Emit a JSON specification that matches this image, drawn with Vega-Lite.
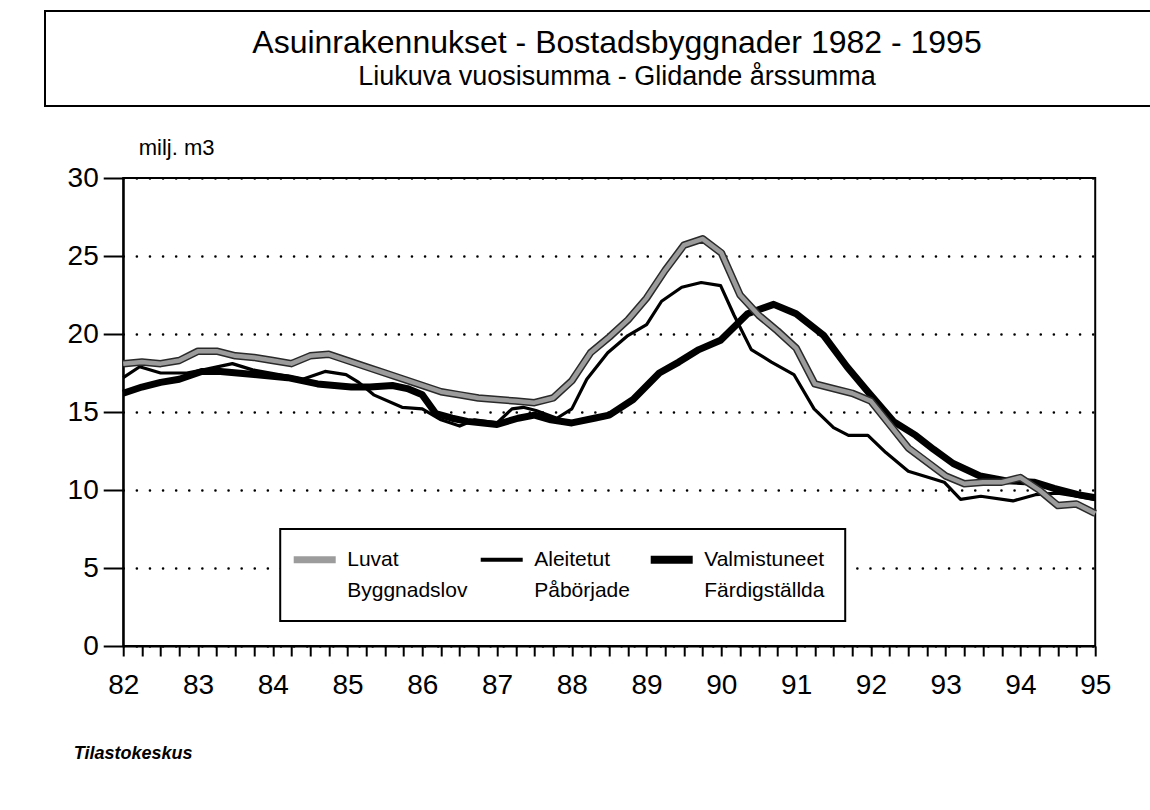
{
  "$schema": "https://vega.github.io/schema/vega-lite/v6.json",
  "background": "white",
  "padding": {"left": 3, "top": 10, "right": 3, "bottom": 0},
  "spacing": 28,
  "columns": 1,
  "center": true,
  "resolve": {"legend": {"color": "independent", "size": "independent"}},
  "config": {
    "font": "Liberation Sans, Arial, sans-serif",
    "view": {"stroke": "black", "strokeWidth": 2}
  },
  "concat": [
    {
      "width": 1144,
      "height": 95,
      "data": {"values": [
        {"row": "a", "line": "Asuinrakennukset - Bostadsbyggnader 1982 - 1995"},
        {"row": "b", "line": "Liukuva vuosisumma - Glidande årssumma"}
      ]},
      "mark": {"type": "text", "font": "Liberation Sans, Arial, sans-serif", "color": "black", "baseline": "middle", "align": "center"},
      "encoding": {
        "y": {"field": "row", "type": "nominal", "axis": null, "scale": {"domain": ["a", "b"], "range": [32, 66], "padding": 0}},
        "text": {"field": "line"},
        "size": {"field": "row", "type": "ordinal", "scale": {"domain": ["a", "b"], "range": [32, 27]}, "legend": null}
      }
    },
    {
      "width": 972,
      "height": 468,
      "data": {"values": [
        {"s":"Luvat","t":82.0,"v":18.1},{"s":"Luvat","t":82.25,"v":18.2},{"s":"Luvat","t":82.5,"v":18.1},{"s":"Luvat","t":82.75,"v":18.3},
        {"s":"Luvat","t":83.0,"v":18.9},{"s":"Luvat","t":83.25,"v":18.9},{"s":"Luvat","t":83.5,"v":18.6},{"s":"Luvat","t":83.75,"v":18.5},
        {"s":"Luvat","t":84.0,"v":18.3},{"s":"Luvat","t":84.25,"v":18.1},{"s":"Luvat","t":84.5,"v":18.6},{"s":"Luvat","t":84.75,"v":18.7},
        {"s":"Luvat","t":85.0,"v":18.3},{"s":"Luvat","t":85.25,"v":17.9},{"s":"Luvat","t":85.5,"v":17.5},{"s":"Luvat","t":85.75,"v":17.1},
        {"s":"Luvat","t":86.0,"v":16.7},{"s":"Luvat","t":86.25,"v":16.3},{"s":"Luvat","t":86.5,"v":16.1},{"s":"Luvat","t":86.75,"v":15.9},
        {"s":"Luvat","t":87.0,"v":15.8},{"s":"Luvat","t":87.25,"v":15.7},{"s":"Luvat","t":87.5,"v":15.6},{"s":"Luvat","t":87.75,"v":15.9},
        {"s":"Luvat","t":88.0,"v":17.0},{"s":"Luvat","t":88.25,"v":18.8},{"s":"Luvat","t":88.5,"v":19.8},{"s":"Luvat","t":88.75,"v":20.9},
        {"s":"Luvat","t":89.0,"v":22.3},{"s":"Luvat","t":89.25,"v":24.1},{"s":"Luvat","t":89.5,"v":25.7},{"s":"Luvat","t":89.75,"v":26.1},
        {"s":"Luvat","t":90.0,"v":25.2},{"s":"Luvat","t":90.25,"v":22.5},{"s":"Luvat","t":90.5,"v":21.2},{"s":"Luvat","t":90.75,"v":20.2},
        {"s":"Luvat","t":91.0,"v":19.1},{"s":"Luvat","t":91.25,"v":16.8},{"s":"Luvat","t":91.5,"v":16.5},{"s":"Luvat","t":91.75,"v":16.2},
        {"s":"Luvat","t":92.0,"v":15.7},{"s":"Luvat","t":92.25,"v":14.2},{"s":"Luvat","t":92.5,"v":12.7},{"s":"Luvat","t":92.75,"v":11.8},
        {"s":"Luvat","t":93.0,"v":10.9},{"s":"Luvat","t":93.25,"v":10.4},{"s":"Luvat","t":93.5,"v":10.5},{"s":"Luvat","t":93.75,"v":10.5},
        {"s":"Luvat","t":94.0,"v":10.8},{"s":"Luvat","t":94.25,"v":10.0},{"s":"Luvat","t":94.5,"v":9.0},{"s":"Luvat","t":94.75,"v":9.1},
        {"s":"Luvat","t":95.0,"v":8.5},

        {"s":"Aleitetut","t":82.0,"v":17.2},{"s":"Aleitetut","t":82.22,"v":17.9},{"s":"Aleitetut","t":82.5,"v":17.5},{"s":"Aleitetut","t":82.85,"v":17.5},
        {"s":"Aleitetut","t":83.07,"v":17.7},{"s":"Aleitetut","t":83.46,"v":18.1},{"s":"Aleitetut","t":83.73,"v":17.7},{"s":"Aleitetut","t":84.08,"v":17.4},
        {"s":"Aleitetut","t":84.4,"v":17.1},{"s":"Aleitetut","t":84.7,"v":17.6},{"s":"Aleitetut","t":84.98,"v":17.4},{"s":"Aleitetut","t":85.15,"v":16.9},
        {"s":"Aleitetut","t":85.35,"v":16.1},{"s":"Aleitetut","t":85.73,"v":15.3},{"s":"Aleitetut","t":86.0,"v":15.2},{"s":"Aleitetut","t":86.25,"v":14.5},
        {"s":"Aleitetut","t":86.5,"v":14.1},{"s":"Aleitetut","t":86.7,"v":14.5},{"s":"Aleitetut","t":87.0,"v":14.3},{"s":"Aleitetut","t":87.2,"v":15.2},
        {"s":"Aleitetut","t":87.35,"v":15.3},{"s":"Aleitetut","t":87.52,"v":15.1},{"s":"Aleitetut","t":87.8,"v":14.6},{"s":"Aleitetut","t":88.0,"v":15.2},
        {"s":"Aleitetut","t":88.2,"v":17.1},{"s":"Aleitetut","t":88.48,"v":18.8},{"s":"Aleitetut","t":88.75,"v":19.9},{"s":"Aleitetut","t":89.0,"v":20.6},
        {"s":"Aleitetut","t":89.2,"v":22.1},{"s":"Aleitetut","t":89.47,"v":23.0},{"s":"Aleitetut","t":89.73,"v":23.3},{"s":"Aleitetut","t":89.99,"v":23.1},
        {"s":"Aleitetut","t":90.17,"v":21.2},{"s":"Aleitetut","t":90.4,"v":19.0},{"s":"Aleitetut","t":90.67,"v":18.2},{"s":"Aleitetut","t":90.97,"v":17.4},
        {"s":"Aleitetut","t":91.24,"v":15.2},{"s":"Aleitetut","t":91.5,"v":14.0},{"s":"Aleitetut","t":91.7,"v":13.5},{"s":"Aleitetut","t":91.96,"v":13.5},
        {"s":"Aleitetut","t":92.2,"v":12.4},{"s":"Aleitetut","t":92.5,"v":11.2},{"s":"Aleitetut","t":92.84,"v":10.7},{"s":"Aleitetut","t":92.98,"v":10.5},
        {"s":"Aleitetut","t":93.2,"v":9.4},{"s":"Aleitetut","t":93.47,"v":9.6},{"s":"Aleitetut","t":93.9,"v":9.3},{"s":"Aleitetut","t":94.2,"v":9.7},
        {"s":"Aleitetut","t":94.5,"v":9.8},{"s":"Aleitetut","t":94.75,"v":9.6},{"s":"Aleitetut","t":95.0,"v":9.4},

        {"s":"Valmistuneet","t":82.0,"v":16.2},{"s":"Valmistuneet","t":82.25,"v":16.6},{"s":"Valmistuneet","t":82.5,"v":16.9},{"s":"Valmistuneet","t":82.75,"v":17.1},
        {"s":"Valmistuneet","t":83.05,"v":17.6},{"s":"Valmistuneet","t":83.3,"v":17.6},{"s":"Valmistuneet","t":83.75,"v":17.4},{"s":"Valmistuneet","t":84.2,"v":17.2},
        {"s":"Valmistuneet","t":84.6,"v":16.8},{"s":"Valmistuneet","t":85.05,"v":16.6},{"s":"Valmistuneet","t":85.3,"v":16.6},{"s":"Valmistuneet","t":85.6,"v":16.7},
        {"s":"Valmistuneet","t":85.8,"v":16.5},{"s":"Valmistuneet","t":86.0,"v":16.1},{"s":"Valmistuneet","t":86.18,"v":14.9},{"s":"Valmistuneet","t":86.4,"v":14.6},
        {"s":"Valmistuneet","t":86.6,"v":14.4},{"s":"Valmistuneet","t":87.0,"v":14.2},{"s":"Valmistuneet","t":87.28,"v":14.6},{"s":"Valmistuneet","t":87.5,"v":14.8},
        {"s":"Valmistuneet","t":87.72,"v":14.5},{"s":"Valmistuneet","t":88.0,"v":14.3},{"s":"Valmistuneet","t":88.3,"v":14.6},{"s":"Valmistuneet","t":88.5,"v":14.8},
        {"s":"Valmistuneet","t":88.82,"v":15.8},{"s":"Valmistuneet","t":89.17,"v":17.5},{"s":"Valmistuneet","t":89.43,"v":18.2},{"s":"Valmistuneet","t":89.7,"v":19.0},
        {"s":"Valmistuneet","t":89.99,"v":19.6},{"s":"Valmistuneet","t":90.35,"v":21.3},{"s":"Valmistuneet","t":90.7,"v":21.9},{"s":"Valmistuneet","t":91.0,"v":21.3},
        {"s":"Valmistuneet","t":91.37,"v":19.9},{"s":"Valmistuneet","t":91.68,"v":17.9},{"s":"Valmistuneet","t":91.96,"v":16.3},{"s":"Valmistuneet","t":92.3,"v":14.4},
        {"s":"Valmistuneet","t":92.6,"v":13.5},{"s":"Valmistuneet","t":92.84,"v":12.6},{"s":"Valmistuneet","t":93.1,"v":11.7},{"s":"Valmistuneet","t":93.46,"v":10.9},
        {"s":"Valmistuneet","t":93.8,"v":10.6},{"s":"Valmistuneet","t":94.18,"v":10.5},{"s":"Valmistuneet","t":94.45,"v":10.1},{"s":"Valmistuneet","t":94.77,"v":9.7},
        {"s":"Valmistuneet","t":95.0,"v":9.5}
      ]},
      "encoding": {
        "x": {
          "field": "t", "type": "quantitative",
          "scale": {"domain": [82, 95], "nice": false, "zero": false},
          "axis": {
            "title": "Tilastokeskus", "titleAnchor": "start", "titleAlign": "left", "titleBaseline": "middle",
            "titleX": -50, "titleY": 107, "titlePadding": 0,
            "titleFont": "Liberation Sans, Arial, sans-serif", "titleFontSize": 18, "titleFontStyle": "italic", "titleFontWeight": "bold", "titleColor": "black",
            "values": [82,82.25,82.5,82.75,83,83.25,83.5,83.75,84,84.25,84.5,84.75,85,85.25,85.5,85.75,86,86.25,86.5,86.75,87,87.25,87.5,87.75,88,88.25,88.5,88.75,89,89.25,89.5,89.75,90,90.25,90.5,90.75,91,91.25,91.5,91.75,92,92.25,92.5,92.75,93,93.25,93.5,93.75,94,94.25,94.5,94.75,95],
            "labelExpr": "datum.value % 1 === 0 ? format(datum.value, 'd') : ''",
            "labelOverlap": false, "labelFlush": false,
            "labelFont": "Liberation Sans, Arial, sans-serif",
            "labelFontSize": 28, "labelColor": "black", "labelPadding": 15,
            "tickSize": 10, "tickWidth": 2, "tickColor": "black",
            "domainColor": "black", "domainWidth": 2, "grid": false
          }
        },
        "y": {
          "field": "v", "type": "quantitative",
          "scale": {"domain": [0, 30], "nice": false},
          "axis": {
            "title": "milj. m3", "titleAngle": 0, "titleAlign": "left", "titleBaseline": "alphabetic",
            "titleX": 15, "titleY": -24, "titlePadding": 0,
            "titleFont": "Liberation Sans, Arial, sans-serif", "titleFontSize": 22, "titleFontWeight": "normal", "titleColor": "black",
            "values": [0, 5, 10, 15, 20, 25, 30],
            "labelFont": "Liberation Sans, Arial, sans-serif",
            "labelFontSize": 28, "labelColor": "black", "labelPadding": 5,
            "tickSize": 20, "tickWidth": 2, "tickColor": "black",
            "domainColor": "black", "domainWidth": 2,
            "grid": true, "gridColor": "black", "gridWidth": 2.5, "gridDash": [0.1, 13], "gridCap": "round",
            "minExtent": 119
          }
        }
      },
      "layer": [
        {
          "transform": [{"filter": "datum.s === 'Valmistuneet'"}],
          "mark": {"type": "line", "strokeWidth": 7, "strokeJoin": "round"},
          "encoding": {
            "color": {
              "field": "s", "type": "nominal",
              "scale": {"domain": ["Luvat", "Aleitetut", "Valmistuneet"], "range": ["#9c9c9c", "black", "black"]},
              "legend": {
                "title": null, "orient": "none", "legendX": 157, "legendY": 351,
                "direction": "horizontal", "columns": 3,
                "symbolType": "stroke", "symbolSize": 1764, "symbolOffset": 4,
                "labelExpr": "datum.label == 'Luvat' ? ['Luvat', 'Byggnadslov'] : datum.label == 'Aleitetut' ? ['Aleitetut', 'Påbörjade'] : ['Valmistuneet', 'Färdigställda']",
                "labelFont": "Liberation Sans, Arial, sans-serif",
                "labelFontSize": 21, "labelColor": "black", "labelOffset": 22, "labelLimit": 300,
                "columnPadding": 4, "padding": 20,
                "strokeColor": "black", "fillColor": "white",
                "encode": {
                  "legend": {"update": {"strokeWidth": {"value": 2}}},
                  "labels": {"update": {"lineHeight": {"value": 31}}},
                  "symbols": {"update": {"strokeWidth": {"signal": "datum.value == 'Valmistuneet' ? 8 : datum.value == 'Luvat' ? 7 : 4"}}}
                }
              }
            }
          }
        },
        {
          "transform": [{"filter": "datum.s === 'Aleitetut'"}],
          "mark": {"type": "line", "strokeWidth": 3.2, "strokeJoin": "round"},
          "encoding": {
            "color": {"field": "s", "type": "nominal", "scale": {"domain": ["Luvat", "Aleitetut", "Valmistuneet"], "range": ["#9c9c9c", "black", "black"]}}
          }
        },
        {
          "transform": [{"filter": "datum.s === 'Luvat'"}],
          "mark": {"type": "line", "color": "#2a2a2a", "strokeWidth": 7.5, "strokeJoin": "round"},
          "encoding": {}
        },
        {
          "transform": [{"filter": "datum.s === 'Luvat'"}],
          "mark": {"type": "line", "strokeWidth": 4.5, "strokeJoin": "round"},
          "encoding": {
            "color": {"field": "s", "type": "nominal", "scale": {"domain": ["Luvat", "Aleitetut", "Valmistuneet"], "range": ["#9c9c9c", "black", "black"]}}
          }
        }
      ]
    }
  ]
}
